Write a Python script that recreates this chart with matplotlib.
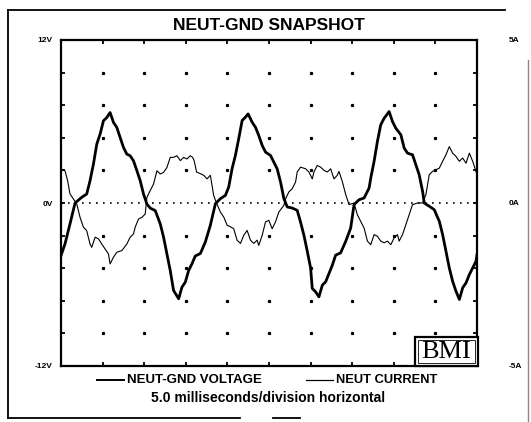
import matplotlib
matplotlib.use("Agg")
import matplotlib.pyplot as plt
from matplotlib.lines import Line2D
from matplotlib.patches import Rectangle
import numpy as np

# ---- data (time in ms, voltage in V, current in A) ----
volt_t1 = [0.0, 0.48, 1.08, 1.69, 2.49, 3.09, 3.49, 3.90, 4.30, 4.70, 5.10, 5.50, 5.90, 6.31, 6.71, 7.11, 7.51, 7.91, 8.31, 8.71,
           9.12, 9.52, 9.92, 10.32, 10.72, 11.33, 11.93, 12.33, 12.73, 13.13, 13.53, 14.14, 14.54, 14.94, 15.34, 15.74, 16.14]
volt_v1 = [-3.87, -3.01, -1.54, 0.0, 0.42, 0.66, 1.64, 2.87, 4.33, 5.07, 6.05, 6.29, 6.66, 5.93, 5.56, 4.82, 4.09, 3.60, 3.48, 3.11,
           2.38, 1.64, 0.66, -0.07, -0.37, -0.56, -1.54, -2.52, -3.75, -4.97, -6.44, -7.05, -6.19, -5.83, -4.97, -4.48, -3.90]
volt_t2 = [16.75, 17.35, 17.95, 18.56, 19.16, 19.76, 20.16, 20.56, 20.96, 21.36, 21.77, 22.17, 22.49, 22.97, 23.37, 23.77, 24.18, 24.58, 25.18, 25.58,
           25.98, 26.39, 26.79, 27.19, 27.79, 28.39, 28.79, 29.20, 29.60, 30.00, 30.20, 30.60, 31.00, 31.41, 31.81, 32.21, 32.61, 33.01]
volt_v2 = [-3.72, -2.87, -1.64, -0.05, 0.32, 0.56, 1.18, 2.52, 3.50, 4.73, 6.07, 6.32, 6.56, 5.95, 5.58, 4.97, 4.24, 3.75, 3.50, 3.01,
           2.52, 1.54, 0.32, -0.29, -0.37, -0.54, -1.40, -2.38, -3.55, -4.78, -6.29, -6.54, -6.91, -6.05, -5.80, -5.19, -4.58, -3.84]
volt_t3 = [33.61, 34.22, 34.82, 35.22, 35.82, 36.43, 37.03, 37.23, 37.63, 38.03, 38.43, 38.84, 39.44, 39.84, 40.24, 40.85, 41.25, 41.65, 42.25, 42.65,
           43.05, 43.46, 43.66, 44.26, 44.86, 45.47, 45.87, 46.27, 46.67, 47.07, 47.47, 47.88, 48.28, 48.68, 49.08, 49.48, 49.88, 50.0]
volt_v3 = [-3.67, -2.82, -1.84, -0.12, 0.24, 0.37, 1.10, 1.84, 3.06, 4.53, 5.76, 6.24, 6.73, 6.00, 5.51, 5.02, 4.04, 3.67, 3.55, 2.82,
           2.08, 0.86, 0.0, -0.24, -0.49, -1.35, -2.33, -3.55, -4.78, -5.76, -6.49, -7.10, -6.24, -5.88, -5.27, -4.78, -4.29, -3.80]

curr_t1 = [0.0, 0.48, 0.80, 1.08, 1.49, 1.89, 2.29, 2.69, 3.09, 3.49, 3.69, 4.10, 4.50, 4.90, 5.70, 5.90, 6.31, 6.71, 7.31, 7.91,
           8.31, 8.71, 8.92, 9.32, 9.72, 10.12, 10.32, 10.72, 11.12, 11.53, 11.93, 12.33, 12.73, 13.13, 13.53, 13.94, 14.34, 14.74, 15.14, 15.54,
           15.82, 16.0, 16.3]
curr_a1 = [1.01, 0.99, 0.68, 0.28, 0.12, -0.03, -0.44, -0.74, -0.85, -1.26, -1.36, -1.05, -1.10, -1.26, -1.56, -1.87, -1.66, -1.51, -1.46, -1.26,
           -1.05, -0.95, -0.74, -0.49, -0.44, -0.34, 0.17, 0.38, 0.58, 0.99, 0.89, 0.94, 1.09, 1.40, 1.40, 1.45, 1.30, 1.40, 1.35, 1.45,
           1.40, 1.30, 0.95]
curr_t2 = [16.75, 17.15, 17.55, 17.95, 18.35, 18.64, 19.16, 19.56, 19.96, 20.36, 20.76, 21.16, 21.57, 21.97, 22.37, 22.77, 23.17, 23.57, 23.77, 24.18,
           24.58, 24.98, 25.38, 25.78, 26.18, 26.79, 26.99, 27.39, 27.79, 28.19, 28.39, 28.79, 29.40, 29.80, 30.20, 30.40, 30.80, 31.21, 31.61, 32.01,
           32.41, 32.81, 33.21]
curr_a2 = [0.90, 0.85, 0.74, 0.85, 0.23, 0.03, -0.28, -0.43, -0.68, -0.73, -0.79, -1.14, -1.24, -0.99, -0.84, -1.14, -1.24, -1.14, -1.30, -0.99,
           -0.58, -0.53, -0.79, -0.58, -0.28, -0.07, 0.13, 0.34, 0.44, 0.64, 0.95, 1.10, 1.05, 0.95, 0.74, 0.95, 1.15, 1.10, 1.00, 0.95,
           1.05, 0.74, 0.85]
curr_t3 = [33.41, 33.81, 34.22, 34.62, 35.22, 35.62, 36.02, 36.43, 36.83, 37.23, 37.63, 38.03, 38.43, 38.84, 39.24, 39.64, 40.04, 40.44, 40.64, 41.05,
           41.45, 41.85, 42.25, 42.85, 43.46, 43.86, 44.26, 44.66, 45.06, 45.47, 45.87, 46.27, 46.67, 47.07, 47.47, 47.88, 48.28, 48.68, 49.08, 49.48,
           49.88, 50.0]
curr_a3 = [0.97, 0.66, 0.26, -0.05, 0.0, -0.36, -0.56, -0.77, -1.17, -1.28, -0.97, -1.02, -1.17, -1.22, -1.17, -1.28, -1.07, -0.97, -1.17, -0.97,
           -0.66, -0.36, -0.05, 0.0, 0.0, 0.26, 0.87, 0.97, 1.02, 1.07, 1.28, 1.48, 1.73, 1.53, 1.43, 1.28, 1.38, 1.22, 1.53, 1.28,
           0.97, 0.87]

title = "NEUT-GND SNAPSHOT"
series_names = ["NEUT-GND VOLTAGE", "NEUT CURRENT"]
subtitle = "5.0 milliseconds/division horizontal"
left_labels = {12: "12V", 0: "0V", -12: "-12V"}
right_labels = {5: "5A", 0: "0A", -5: "-5A"}
logo = "BMI"

volt_t = volt_t1 + volt_t2 + volt_t3
volt_v = volt_v1 + volt_v2 + volt_v3
curr_t = curr_t1 + curr_t2 + curr_t3
curr_a = curr_a1 + curr_a2 + curr_a3

# ---- figure ----
W, H = 531, 422
fig = plt.figure(figsize=(W / 100, H / 100), dpi=100)
plt.rcParams['font.family'] = ['Liberation Sans', 'DejaVu Sans']

def fx(x):
    return x / W

def fy(y):
    return 1 - y / H

L, R, T, B = 61, 477, 40, 366
ax = fig.add_axes([fx(L), fy(B), (R - L) / W, (B - T) / H])
ax.set_xlim(0, 50)
ax.set_ylim(-12, 12)

for s in ax.spines.values():
    s.set_linewidth(1.6)

xt = np.arange(0, 50.01, 5)
yt = np.linspace(-12, 12, 11)
ax.set_xticks(xt)
ax.set_xticklabels([])
ax.set_yticks(yt)
ax.set_yticklabels([left_labels[int(round(v))] if abs(v - round(v)) < 1e-6 and int(round(v)) in left_labels else "" for v in yt],
                   fontsize=6, fontweight='bold')
ax.tick_params(axis='both', direction='in', length=3, width=1.3, top=True, pad=6)

# grid dots at division intersections
gx, gy = np.meshgrid(xt[1:-1], [v for v in yt[1:-1] if abs(v) > 1e-6])
ax.plot(gx.ravel(), gy.ravel(), linestyle='none', marker='s', markersize=1.3, color='black')
ax.axhline(0, color='black', lw=1.2, linestyle=(0, (1, 3.2)))

ax2 = ax.twinx()
ax2.set_ylim(-5, 5)
rt = np.linspace(-5, 5, 11)
ax2.set_yticks(rt)
ax2.set_yticklabels([right_labels.get(int(round(v)), "") for v in rt], fontsize=6, fontweight='bold')
ax2.tick_params(axis='y', direction='in', length=3, width=1.3, pad=23)
for s in ax2.spines.values():
    s.set_visible(False)

ax2.plot(curr_t, curr_a, color='black', lw=0.8)
ax.plot(volt_t, volt_v, color='black', lw=2.0)

# logo box
fig.add_artist(Rectangle((fx(415), fy(366)), (478 - 415) / W, 29 / H, transform=fig.transFigure,
                         facecolor='white', edgecolor='black', lw=1.6))
fig.add_artist(Rectangle((fx(418), fy(363)), (475 - 418) / W, 23 / H, transform=fig.transFigure,
                         facecolor='none', edgecolor='black', lw=0.6))
fig.text(fx(446.5), fy(351.5), logo, ha='center', va='center', fontsize=19,
         family=['Liberation Serif', 'DejaVu Serif'])

# title
fig.text(fx(269), fy(26), title, ha='center', va='center', fontsize=12.5, fontweight='bold')

# legend
fig.add_artist(Line2D([fx(97), fx(124)], [fy(380), fy(380)], color='black', lw=1.4, transform=fig.transFigure))
fig.text(fx(127), fy(380), series_names[0], ha='left', va='center', fontsize=9.5, fontweight='bold')
fig.add_artist(Line2D([fx(306), fx(333)], [fy(380), fy(380)], color='black', lw=0.9, transform=fig.transFigure))
fig.text(fx(336), fy(380), series_names[1], ha='left', va='center', fontsize=9.3, fontweight='bold')
fig.text(fx(268), fy(398), subtitle, ha='center', va='center', fontsize=10, fontweight='bold')

# outer frame
frame = dict(color='black', lw=1.3, transform=fig.transFigure)
fig.add_artist(Line2D([fx(8), fx(505)], [fy(10), fy(10)], **frame))
fig.add_artist(Line2D([fx(8), fx(8)], [fy(10), fy(418)], **frame))
fig.add_artist(Line2D([fx(8), fx(240)], [fy(418), fy(418)], **frame))
fig.add_artist(Line2D([fx(273), fx(300)], [fy(418), fy(418)], **frame))
fig.add_artist(Line2D([fx(528), fx(528)], [fy(60), fy(422)], color='#888888', lw=1.0, transform=fig.transFigure))

fig.savefig("out.png", dpi=100, facecolor='white')
